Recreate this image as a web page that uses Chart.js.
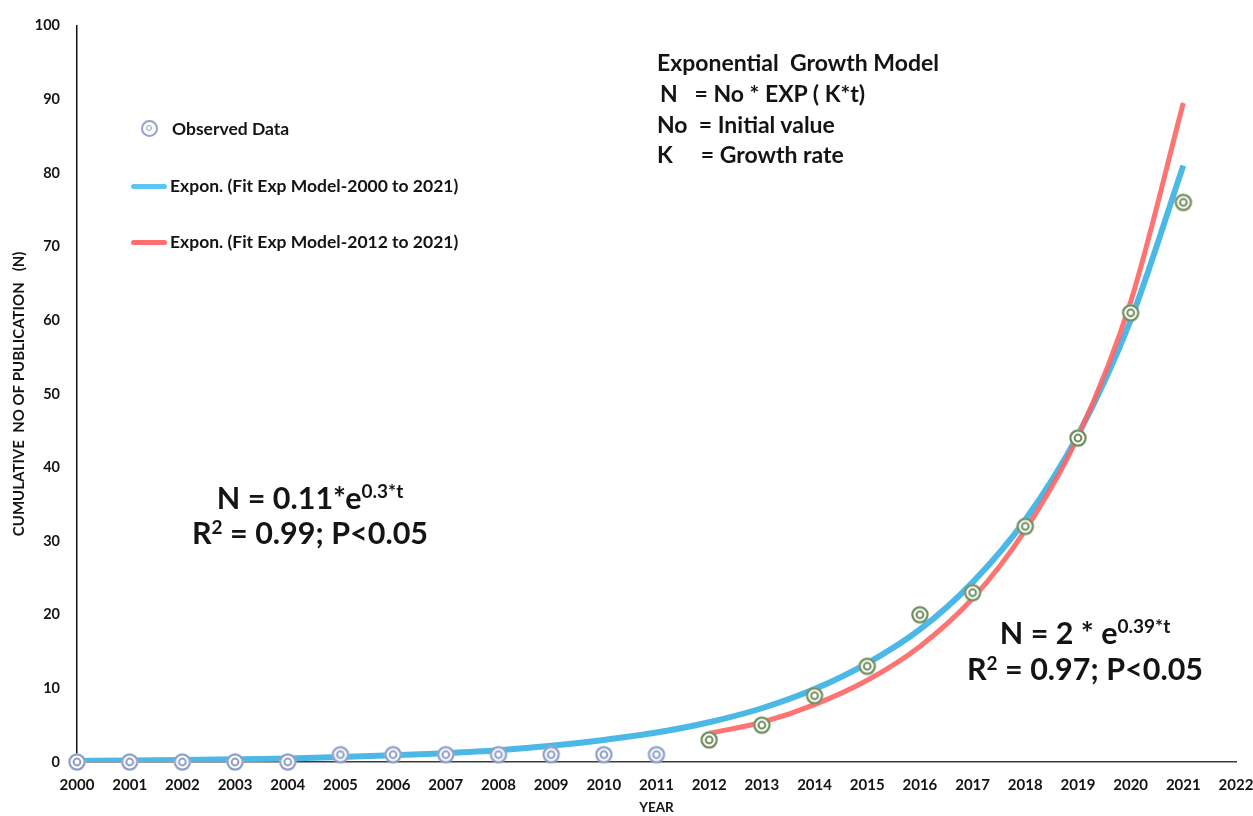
<!DOCTYPE html>
<html>
<head>
<meta charset="utf-8">
<script src="https://cdn.jsdelivr.net/npm/chart.js@4.4.1/dist/chart.umd.min.js"></script>
<style>
  html, body { margin: 0; padding: 0; background: #fff; }
  #wrap { position: relative; width: 1253px; height: 816px; }
  #chart { position: absolute; left: 0; top: 0; }
  .txt { position: absolute; font-family: Lato, "Open Sans", sans-serif; font-weight: bold; color: #141414; white-space: pre; line-height: 1; }
  .legend { font-size: 17.5px; }
  .model { font-size: 23px; }
  .eq { font-size: 30.5px; text-align: center; }
  .eq sup { font-size: 19px; vertical-align: 0; position: relative; top: -11px; }
  .eq .sq { font-size: 19px; position: relative; top: -10px; }
  .ring { position: absolute; width: 13px; height: 13px; border: 2px solid #93a3c9; border-radius: 50%; }
  .ring::after { content: ""; position: absolute; left: 3px; top: 3px; width: 4px; height: 4px; border: 1.5px solid #93a3c9; border-radius: 50%; }
  .swatch { position: absolute; width: 36px; height: 5px; border-radius: 3px; }
</style>
</head>
<body>
<div id="wrap">
  <canvas id="chart" width="1253" height="816"></canvas>

  <!-- legend -->
  <span class="ring" style="left:141px;top:120px;"></span>
  <div class="txt legend" style="left:172px;top:120px;">Observed Data</div>
  <span class="swatch" style="left:131px;top:184px;background:#5cc6f0;"></span>
  <div class="txt legend" style="left:170px;top:177px;">Expon. (Fit Exp Model-2000 to 2021)</div>
  <span class="swatch" style="left:131px;top:240px;background:#ff6f6f;"></span>
  <div class="txt legend" style="left:170px;top:233px;">Expon. (Fit Exp Model-2012 to 2021)</div>

  <!-- model description -->
  <div class="txt model" style="left:657px;top:51px;">Exponential  Growth Model</div>
  <div class="txt model" style="left:660px;top:82px;">N   = No * EXP ( K*t)</div>
  <div class="txt model" style="left:657px;top:113px;">No  = Initial value</div>
  <div class="txt model" style="left:657px;top:143px;">K     = Growth rate</div>

  <!-- fitted equations -->
  <div class="txt eq" style="left:160px;top:482px;width:300px;">N = 0.11*e<sup>0.3*t</sup></div>
  <div class="txt eq" style="left:160px;top:517px;width:300px;">R<span class="sq">2</span> = 0.99; P&lt;0.05</div>
  <div class="txt eq" style="left:935px;top:617px;width:300px;">N = 2 * e<sup>0.39*t</sup></div>
  <div class="txt eq" style="left:935px;top:653px;width:300px;">R<span class="sq">2</span> = 0.97; P&lt;0.05</div>
</div>

<script>
// ---------- data ----------
const years = [2000, 2001, 2002, 2003, 2004, 2005, 2006, 2007, 2008, 2009, 2010,
               2011, 2012, 2013, 2014, 2015, 2016, 2017, 2018, 2019, 2020, 2021];
const observed = [0, 0, 0, 0, 0, 1, 1, 1, 1, 1, 1, 1, 3, 5, 9, 13, 20, 23, 32, 44, 61, 76];

// trend line read at each year, whole period
const fitAll = [0.15, 0.2, 0.27, 0.37, 0.49, 0.67, 0.9, 1.2, 1.6, 2.2, 3.0,
                4.0, 5.4, 7.3, 9.9, 13.4, 18.0, 24.4, 32.9, 44.4, 60.0, 81.0];

// trend line, 2012 onward
const recentYears = [2012, 2013, 2014, 2015, 2016, 2017, 2018, 2019, 2020, 2021];
const fitRecent = [3.9, 5.4, 7.8, 11.1, 15.7, 22.2, 31.5, 44.2, 62.5, 89.5];

const yTicks = [0, 10, 20, 30, 40, 50, 60, 70, 80, 90, 100];

// ---------- double ring marker ----------
function ringMarker(color) {
  const c = document.createElement('canvas');
  c.width = 20; c.height = 20;
  const g = c.getContext('2d');
  g.fillStyle = '#fff';
  g.beginPath(); g.arc(10, 10, 8.5, 0, Math.PI * 2); g.fill();
  g.strokeStyle = color;
  g.lineWidth = 2.2;
  g.beginPath(); g.arc(10, 10, 7.6, 0, Math.PI * 2); g.stroke();
  g.lineWidth = 2;
  g.beginPath(); g.arc(10, 10, 3.4, 0, Math.PI * 2); g.stroke();
  return c;
}
const blueRing = ringMarker('#8d9ec8');
const greenRing = ringMarker('#6f8c5c');

const pts = (xs, ys) => xs.map((x, i) => ({ x, y: ys[i] }));

const font = { family: 'Lato, "Open Sans", sans-serif', weight: 'bold' };

new Chart(document.getElementById('chart'), {
  type: 'scatter',
  data: {
    datasets: [
      {
        label: 'Observed Data',
        data: pts(years, observed),
        pointStyle: ctx => (years[ctx.dataIndex] >= 2012 ? greenRing : blueRing),
        pointRadius: 10,
        showLine: false,
        clip: false
      },
      {
        label: 'Expon. (Fit Exp Model-2012 to 2021)',
        data: pts(recentYears, fitRecent),
        showLine: true,
        borderColor: 'rgba(255, 100, 100, 0.9)',
        borderWidth: 5,
        pointRadius: 0,
        cubicInterpolationMode: 'monotone'
      },
      {
        label: 'Expon. (Fit Exp Model-2000 to 2021)',
        data: pts(years, fitAll),
        showLine: true,
        borderColor: '#4cb8e6',
        borderWidth: 6,
        pointRadius: 0,
        cubicInterpolationMode: 'monotone'
      }
    ]
  },
  options: {
    responsive: false,
    animation: false,
    layout: { padding: { top: 20, right: 17, left: 0, bottom: 0 } },
    plugins: { legend: { display: false }, tooltip: { enabled: false } },
    scales: {
      x: {
        type: 'linear',
        min: 2000,
        max: 2022,
        grid: { display: false, drawTicks: false },
        border: { color: '#3a3a3a', width: 1.5 },
        ticks: {
          stepSize: 1,
          padding: 14,
          color: '#141414',
          font: { ...font, size: 15 },
          callback: v => String(v)
        },
        title: {
          display: true,
          text: 'YEAR',
          color: '#141414',
          font: { ...font, size: 13.5 },
          padding: { top: 2, bottom: 0 }
        },
        afterFit: s => { s.height = 54; s.paddingRight = 0; s.paddingLeft = 0; }
      },
      y: {
        min: 0,
        max: 100,
        grid: { display: false, drawTicks: false },
        border: { color: '#111', width: 1.5 },
        afterBuildTicks: s => { s.ticks = yTicks.map(v => ({ value: v })); },
        ticks: {
          padding: 17,
          color: '#141414',
          font: { ...font, size: 14.5 }
        },
        title: {
          display: true,
          text: 'CUMULATIVE  NO OF PUBLICATION   (N)',
          color: '#141414',
          font: { ...font, size: 15 },
          padding: { top: 10, bottom: 0 }
        },
        afterFit: s => { s.width = 77; }
      }
    }
  }
});
</script>
</body>
</html>
